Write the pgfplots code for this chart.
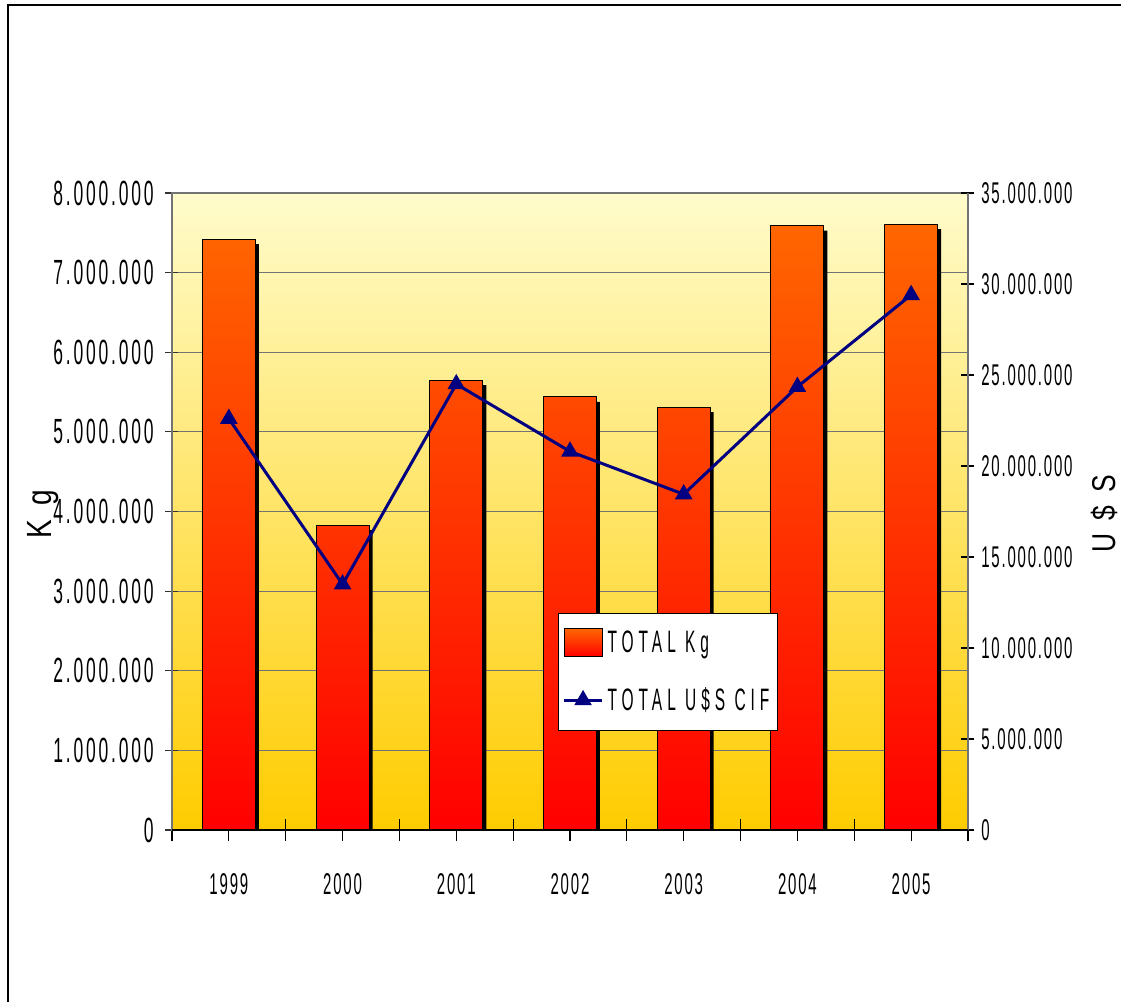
\documentclass[border=0pt]{standalone}
\usepackage{fontspec}
\usepackage{pgfplots}
\usepackage{pgfplotstable}
\pgfplotsset{compat=1.18}
\setmainfont{Liberation Sans}
\newfontfamily\tickfont{Liberation Sans}[FakeStretch=0.5,LetterSpace=6]
\newfontfamily\ltickfont{Liberation Sans}[FakeStretch=0.5,LetterSpace=8]
\newfontfamily\legfont{Liberation Sans}[FakeStretch=0.5,LetterSpace=16]
\newfontfamily\labfont{Liberation Sans}[FakeStretch=0.8,LetterSpace=40]
\definecolor{bgtop}{RGB}{255,252,204}
\definecolor{bgbot}{RGB}{255,204,0}
\definecolor{bartop}{RGB}{255,102,0}
\definecolor{barbot}{RGB}{255,0,0}
\definecolor{navyline}{RGB}{0,0,128}
\definecolor{gridgray}{RGB}{115,115,115}

\pgfplotstableread{
x kg usd
0 7420000 22600000
1 3830000 13500000
2 5650000 24500000
3 5440000 20800000
4 5310000 18450000
5 7590000 24350000
6 7610000 29400000
}\datatable

\begin{document}
\begin{tikzpicture}
\useasboundingbox (0,0) rectangle (560.5pt,-501pt);
\draw[black,line width=0.6pt] (4pt,-2.5pt) rectangle (620pt,-560pt);
\begin{axis}[
  at={(86pt,-415pt)}, anchor=south west,
  width=398pt, height=318.5pt, scale only axis,
  xmin=-0.5, xmax=6.5, ymin=0, ymax=8000000,
  axis background/.style={top color=bgtop, bottom color=bgbot},
  axis line style={gridgray, line width=0.6pt},
  tick align=center,
  xtick={-0.5,0.5,1.5,2.5,3.5,4.5,5.5,6.5}, xticklabels={},
  xtick style={/pgfplots/major tick length=11pt, black, line width=0.6pt},
  ytick style={/pgfplots/major tick length=6.5pt, black!80, line width=0.6pt},
  extra x ticks={0,1,2,3,4,5,6},
  extra x tick labels={1999,2000,2001,2002,2003,2004,2005},
  extra x tick style={/pgfplots/major tick length=0pt, grid=none,
     tick label style={yshift=-18pt, font=\tickfont\fontsize{15}{17}\selectfont}},
  ytick={0,1000000,2000000,3000000,4000000,5000000,6000000,7000000,8000000},
  yticklabels={0,1.000.000,2.000.000,3.000.000,4.000.000,5.000.000,6.000.000,7.000.000,8.000.000},
  scaled y ticks=false,
  yticklabel style={font=\ltickfont\fontsize{17.5}{19}\selectfont, xshift=-3.5pt},
  ytick pos=left, xtick pos=bottom,
  ymajorgrids, grid style={gridgray, line width=0.5pt},
]
\addplot[ybar, bar width=0.466, bar shift=1.75pt, fill=black, draw=none, yshift=-2.5pt] table[x=x,y=kg]{\datatable};
\addplot[ybar, bar width=0.466, bar shift=0pt, draw=black, line width=0.5pt, top color=bartop, bottom color=barbot] table[x=x,y=kg]{\datatable};
\end{axis}
\begin{axis}[
  at={(86pt,-415pt)}, anchor=south west,
  width=398pt, height=318.5pt, scale only axis,
  xmin=-0.5, xmax=6.5, ymin=0, ymax=35000000,
  axis x line=none, axis y line*=right,
  axis line style={gridgray, line width=0.6pt},
  tick align=center,
  ytick style={/pgfplots/major tick length=6.5pt, black, line width=0.6pt},
  ytick={0,5000000,10000000,15000000,20000000,25000000,30000000,35000000},
  yticklabels={0,5.000.000,10.000.000,15.000.000,20.000.000,25.000.000,30.000.000,35.000.000},
  scaled y ticks=false,
  yticklabel style={font=\tickfont\fontsize{15}{17}\selectfont, xshift=1pt},
  legend style={at={(0.485,0.3407)}, anchor=north west, draw=black, fill=white,
     line width=0.5pt, font=\legfont\fontsize{15.5}{18}\selectfont,
     inner xsep=2pt, inner ysep=6.5pt, row sep=12pt},
  legend cell align=left,
  legend image code/.code={\draw[mark repeat=2,mark phase=2,#1] plot coordinates {(0pt,0pt) (9.5pt,0pt) (19pt,0pt)};},
]
\addlegendimage{legend image code/.code={\draw[draw=black, line width=0.5pt, top color=bartop, bottom color=barbot] (0pt,-7pt) rectangle (19pt,7pt);}}
\addlegendentry{TOTAL Kg}
\addplot[navyline, line width=1.5pt, mark=triangle*, mark size=3.6pt, mark options={fill=navyline, solid}]
  table[x=x,y=usd]{\datatable};
\addlegendentry{TOTAL U\$S CIF}
\end{axis}
\draw[black, line width=0.8pt] (86pt,-415pt) -- (484pt,-415pt);
\node[rotate=90, anchor=north, inner sep=0pt, font=\labfont\fontsize{17.5}{20}\selectfont] at (13.5pt,-257pt) {Kg};
\node[rotate=90, anchor=north, inner sep=0pt, font=\labfont\fontsize{16.5}{20}\selectfont] at (545.5pt,-257pt) {U\$S};
\end{tikzpicture}
\end{document}
